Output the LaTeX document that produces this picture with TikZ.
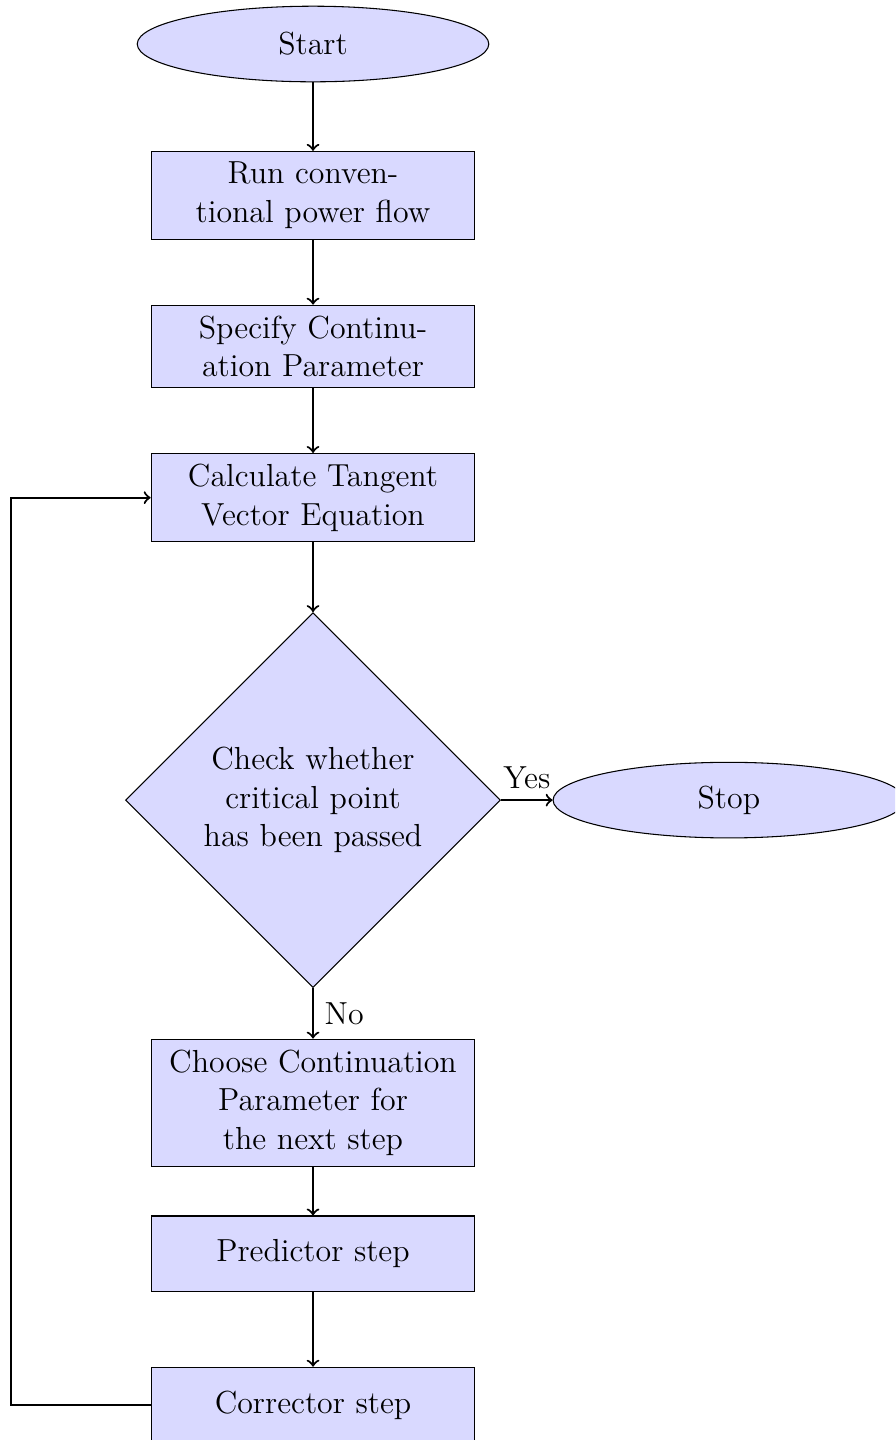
\documentclass[tikz,border=0pt,12pt]{standalone}
\usepackage{tikz}
\usetikzlibrary{shapes.geometric,positioning}
\tikzset{
  term/.style={ellipse, fill=blue!15, draw=black, minimum width=4.65cm, minimum height=1cm},
  blk/.style={rectangle, fill=blue!15, draw=black, text width=4cm, align=center, minimum height=1cm},
  dec/.style={diamond, fill=blue!15, draw=black, text width=3cm, align=center},
  arr/.style={draw=black, thick, ->}
}

\begin{document}
\begin{tikzpicture}
        \clip (-4.140,0.582) rectangle (7.697,-18.463);
        \node[term] (start) at (0,0) {Start};
        \node[blk] (run) at (0,-2) {Run conventional power flow};
        \node[blk] (spec) at (0,-4) {Specify Continuation Parameter};
        \node[blk] (calc) at (0,-6) {Calculate Tangent Vector Equation};
        \node[dec] (check) at (0,-10) {Check whether critical point has been passed};
        \node[term] (stop) at (5.5,-10) {Stop};
        \node[blk] (choose) at (0,-14) {Choose Continuation Parameter for the next step};
        \node[blk] (pred) at (0,-16) {Predictor step};
        \node[blk] (corr) at (0,-18) {Corrector step};
        \coordinate (loop) at (-4,-18);
        \draw[arr] (start)--(run); \draw[arr] (run)--(spec);
        \draw[arr] (spec)--(calc); \draw[arr] (calc)--(check);
        \draw[arr] (check)--node[above]{Yes}(stop);
        \draw[arr] (check)--node[right]{No}(choose);
        \draw[arr] (choose)--(pred); \draw[arr] (pred)--(corr);
        \draw[arr] (corr)--(loop) |- (calc);
      \end{tikzpicture}
\end{document}
